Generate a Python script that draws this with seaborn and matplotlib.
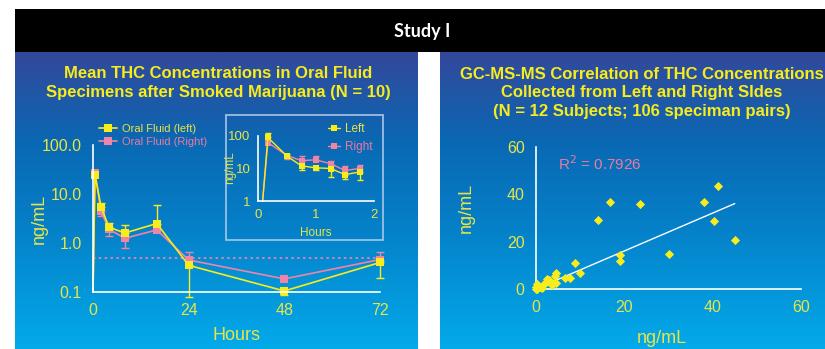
import numpy as np
import matplotlib
matplotlib.use("Agg")
import matplotlib.pyplot as plt
from matplotlib.colors import LinearSegmentedColormap
from matplotlib.patches import Rectangle
from matplotlib.lines import Line2D
import seaborn as sns

# %%
# data
hours = [0, 0.5, 2, 4, 8, 16, 24, 48, 72]
left_mean = [0.1, 25, 5.5, 2.1, 1.6, 2.5, 0.35, 0.105, 0.40]
right_mean = [0.1, 27, 4.5, 1.9, 1.25, 1.85, 0.45, 0.185, 0.46]
left_hi = [np.nan, np.nan, 6.5, 2.6, 2.3, 6.1, np.nan, np.nan, np.nan]
left_lo = [np.nan, np.nan, np.nan, np.nan, np.nan, np.nan, 0.08, 0.088, 0.19]
right_hi = [np.nan, np.nan, np.nan, np.nan, np.nan, np.nan, 0.65, np.nan, 0.64]
right_lo = [np.nan, np.nan, 3.5, 1.4, 0.8, np.nan, np.nan, np.nan, np.nan]
loq = 0.5

inset_hours = [0.08, 0.17, 0.5, 0.75, 1.0, 1.25, 1.5, 1.75]
inset_left = [1, 90, 24, 12, 10.5, 10, 6.5, 7.8]
inset_right = [1, 63, 25, 17.5, 18.5, 14, 8.7, 10]
inset_left_hi = [np.nan, 125, 28, np.nan, np.nan, np.nan, np.nan, np.nan]
inset_left_lo = [np.nan, np.nan, np.nan, 9, 8.7, 5.5, 4.8, 4.3]
inset_right_hi = [np.nan, np.nan, np.nan, 24, 24, 17.5, 12, 13]
inset_right_lo = [np.nan, np.nan, 19, np.nan, np.nan, np.nan, np.nan, np.nan]

left_side = [41.3, 16.9, 23.7, 38.0, 14.2, 40.3, 45.0, 30.1, 19.1, 19.1, 8.8, 10.0,
             4.7, 4.4, 6.6, 7.8, 4.7, 3.7, 2.9, 2.3, 1.7, 1.0, 0.3, 0.2, 0.6,
             3.2, 2.5, 3.6, 1.4, 0.0, 0.0]
right_side = [43.6, 36.7, 36.0, 36.7, 29.1, 28.7, 20.8, 14.9, 14.2, 11.8, 11.0, 6.9,
              6.6, 5.5, 4.5, 4.5, 2.7, 1.6, 3.8, 3.1, 1.7, 1.0, 2.1, 0.2, 0.8,
              3.5, 4.1, 2.0, 0.3, 1.0, 0.0]
fit_slope = 0.80
fit_intercept = 0.0
fit_range = [1.0, 45.0]
r2 = 0.7926

# %%
W, H = 825, 349
YEL = "#f8ec1c"
TXT = "#e9e445"
PINK = "#f084a6"
PINK_TXT = "#ea7aa2"

sns.set_style("white")
plt.rcParams["font.family"] = ["Liberation Sans", "DejaVu Sans"]

fig = plt.figure(figsize=(W / 100, H / 100), dpi=100)


def box(x0, y0, x1, y1):
    # pixel box (top-left origin) -> figure fraction rect
    return [x0 / W, 1 - y1 / H, (x1 - x0) / W, (y1 - y0) / H]


cmap = LinearSegmentedColormap.from_list(
    "panel", [(0, "#33489b"), (0.17, "#1c5aa8"), (0.3, "#0a68b3"),
              (0.6, "#0581c9"), (1, "#03aaea")])
grad = np.linspace(0, 1, 256).reshape(-1, 1)
for rect in [box(15, 52, 418, 349), box(440, 52, 826, 349)]:
    bg = fig.add_axes(rect, zorder=0)
    bg.imshow(grad, aspect="auto", cmap=cmap, extent=[0, 1, 0, 1])
    bg.set_axis_off()

hd = fig.add_axes(box(15, 9, 826, 52), zorder=0)
hd.set_facecolor("black")
hd.set_xticks([]); hd.set_yticks([])
for s in hd.spines.values():
    s.set_visible(False)
fig.text(422 / W, 1 - 31 / H, "Study I", color="white", fontsize=13,
         ha="center", va="center", family=["Lato", "DejaVu Sans"], weight="bold")

# titles
fig.text(218 / W, 1 - 83 / H,
         "Mean THC Concentrations in Oral Fluid\nSpecimens after Smoked Marijuana (N = 10)",
         color=YEL, fontsize=12, weight="bold", ha="center", va="center",
         linespacing=1.3)
fig.text(642 / W, 1 - 93 / H,
         "GC-MS-MS Correlation of THC Concentrations\nCollected from Left and Right SIdes\n(N = 12 Subjects; 106 speciman pairs)",
         color=YEL, fontsize=12, weight="bold", ha="center", va="center",
         linespacing=1.3)


def style(ax, size):
    sns.despine(ax=ax)
    ax.set_facecolor("none")
    for s in ["left", "bottom"]:
        ax.spines[s].set_color("white")
        ax.spines[s].set_linewidth(1.2)
    ax.tick_params(direction="out", length=5, width=1.2, color="white",
                   labelcolor=TXT, labelsize=size, pad=3)
    ax.tick_params(which="minor", length=0)


def bars(ax, x, y, lo, hi, color, cap):
    x = np.array(x); y = np.array(y)
    lo = np.array(lo, float); hi = np.array(hi, float)
    dn = np.where(np.isnan(lo), 0, y - lo)
    up = np.where(np.isnan(hi), 0, hi - y)
    m = (dn > 0) | (up > 0)
    ax.errorbar(x[m], y[m], yerr=[dn[m], up[m]], fmt="none", ecolor=color,
                elinewidth=1, capsize=cap, capthick=1, zorder=1.5, clip_on=False)


# %%
# main time course (first point is the pre-dose start, drawn without a marker)
ax = fig.add_axes(box(93, 145, 380, 292), zorder=2)
bars(ax, hours, right_mean, right_lo, right_hi, PINK, 3)
bars(ax, hours, left_mean, left_lo, left_hi, YEL, 3)
ax.axhline(loq, color=PINK, ls=(0, (1.5, 2)), lw=1.2, zorder=1)
sns.lineplot(x=hours, y=right_mean, ax=ax, color=PINK, marker="s", markersize=6,
             markeredgewidth=0, lw=1.2, clip_on=False,
             markevery=list(range(1, len(hours))))
sns.lineplot(x=hours, y=left_mean, ax=ax, color=YEL, marker="s", markersize=6,
             markeredgewidth=0, lw=1.2, clip_on=False,
             markevery=list(range(1, len(hours))))
ax.set_yscale("log")
ax.set_xlim(0, 72)
ax.set_ylim(0.1, 100)
ax.set_xticks([0, 24, 48, 72])
ax.set_yticks([0.1, 1, 10, 100], ["0.1", "1.0", "10.0", "100.0"])
style(ax, 11.5)
ax.set_xlabel("Hours", color=TXT, fontsize=13)
ax.set_ylabel("ng/mL", color=TXT, fontsize=13)
ax.xaxis.set_label_coords(0.5, -0.24)
ax.yaxis.set_label_coords(-0.157, 0.5)
h1 = [Line2D([], [], color=YEL, marker="s", markersize=6, markeredgewidth=0, lw=1.2),
      Line2D([], [], color=PINK, marker="s", markersize=6, markeredgewidth=0, lw=1.2)]
ax.legend(h1, ["Oral Fluid (left)", "Oral Fluid (Right)"], loc="upper left",
          bbox_to_anchor=(99 / W, 1 - 124 / H), bbox_transform=fig.transFigure,
          frameon=False, fontsize=8, labelcolor=[TXT, PINK_TXT], handlelength=1.6,
          handletextpad=0.5, borderpad=0, borderaxespad=0, labelspacing=0.3)

# inset
fig.patches.append(Rectangle((226 / W, 1 - 240 / H), 157 / W, 125 / H,
                             transform=fig.transFigure, fill=False,
                             edgecolor="#a9c6e6", lw=1.2, zorder=1))
ins = fig.add_axes(box(258, 136, 374, 201), zorder=2)
bars(ins, inset_hours, inset_right, inset_right_lo, inset_right_hi, PINK, 2)
bars(ins, inset_hours, inset_left, inset_left_lo, inset_left_hi, YEL, 2)
sns.lineplot(x=inset_hours, y=inset_right, ax=ins, color=PINK, marker="s",
             markersize=4, markeredgewidth=0, lw=1, clip_on=False,
             markevery=list(range(1, len(inset_hours))))
sns.lineplot(x=inset_hours, y=inset_left, ax=ins, color=YEL, marker="s",
             markersize=4, markeredgewidth=0, lw=1, clip_on=False,
             markevery=list(range(1, len(inset_hours))))
ins.set_yscale("log")
ins.set_xlim(0, 2)
ins.set_ylim(1, 100)
ins.set_xticks([0, 0.5, 1, 1.5, 2], ["0", "", "1", "", "2"])
ins.set_yticks([1, 10, 100], ["1", "10", "100"])
style(ins, 9.5)
ins.tick_params(length=4, pad=1.5)
ins.set_xlabel("Hours", color=TXT, fontsize=8.5)
ins.set_ylabel("ng/mL", color=TXT, fontsize=8.5)
ins.xaxis.set_label_coords(0.5, -0.40)
ins.yaxis.set_label_coords(-0.19, 0.52)
h2 = [Line2D([], [], color=YEL, marker="s", markersize=4, markeredgewidth=0, lw=1),
      Line2D([], [], color=PINK, marker="s", markersize=4, markeredgewidth=0, lw=1)]
ins.legend(h2, ["Left", "Right"], loc="upper left",
           bbox_to_anchor=(328 / W, 1 - 123 / H), bbox_transform=fig.transFigure,
           frameon=False, fontsize=8.5, labelcolor=[TXT, PINK_TXT], handlelength=1.0,
           handletextpad=0.4, borderpad=0, borderaxespad=0, labelspacing=0.5)

# %%
# correlation
ax2 = fig.add_axes(box(535.7, 146.7, 801, 289), zorder=2)
fit_x = np.array(fit_range)
sns.lineplot(x=fit_x, y=fit_slope * fit_x + fit_intercept, ax=ax2, color="white", lw=1)
sns.scatterplot(x=left_side, y=right_side, ax=ax2, color=YEL, marker="D", s=22,
                linewidth=0, clip_on=False, zorder=3)
ax2.set_xlim(0, 60)
ax2.set_ylim(0, 60)
ax2.set_xticks([0, 20, 40, 60])
ax2.set_yticks([0, 20, 40, 60])
style(ax2, 11.5)
ax2.set_xlabel("ng/mL", color=TXT, fontsize=13)
ax2.set_ylabel("ng/mL", color=TXT, fontsize=13)
ax2.xaxis.set_label_coords(0.475, -0.285)
ax2.yaxis.set_label_coords(-0.229, 0.57)
ax2.text(5, 53, f"R$^2$ = {r2}", color=PINK_TXT, fontsize=11, va="center")

fig.savefig("out.png", dpi=100)
